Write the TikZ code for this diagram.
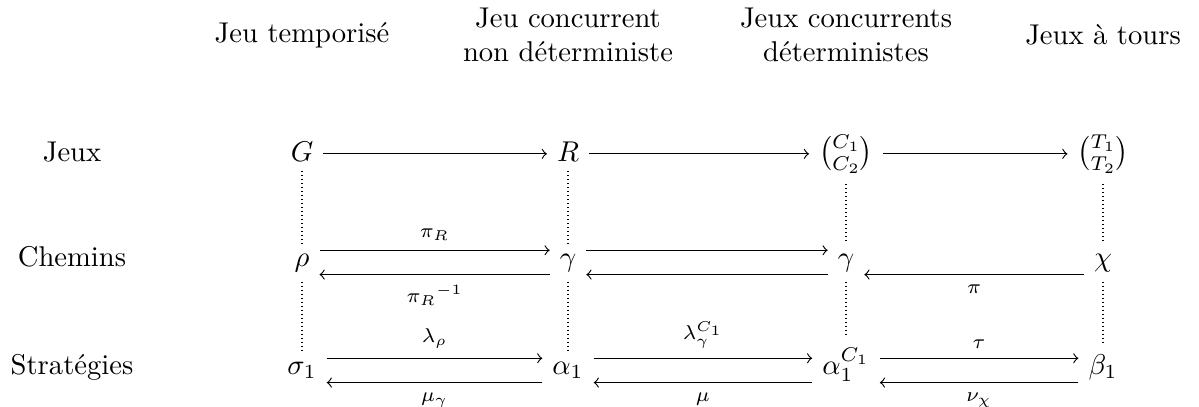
\documentclass[tikz,border=0pt]{standalone}
\usepackage{amsmath}
\usepackage{fontspec}
\begin{document}
\begin{tikzpicture}[x=0.3497pt,y=-0.3497pt,
  obj/.style={anchor=base},
  lab/.style={font=\scriptsize},
  head/.style={align=center},
  vlink/.style={densely dotted},
  arr/.style={->}]
\useasboundingbox (0,0) rectangle (1199,406);
% column titles
\node[head] (h1) at (302,35) {Jeu temporisé};
\node[head] (h2) at (568,35) {Jeu concurrent\\non déterministe};
\node[head] (h3) at (846,35) {Jeux concurrents\\déterministes};
\node[head] (h4) at (1103,35) {Jeux à tours};
% row titles
\node[obj] (l1) at (72,161) {Jeux};
\node[obj] (l2) at (72,266) {Chemins};
\node[obj] (l3) at (72,374) {Stratégies};
% row 1
\node[obj] (G) at (302,161) {$G$};
\node[obj] (R) at (568,161) {$R$};
\node[obj] (C) at (846,161) {$\binom{C_1}{C_2}$};
\node[obj] (T) at (1103,161) {$\binom{T_1}{T_2}$};
% row 2
\node[obj] (rho) at (302,266) {$\rho$};
\node[obj] (g1) at (568,266) {$\gamma$};
\node[obj] (g2) at (846,266) {$\gamma$};
\node[obj] (chi) at (1103,266) {$\chi$};
% row 3
\node[obj] (s) at (302,374) {$\sigma_1$};
\node[obj] (a) at (568,374) {$\alpha_1$};
\node[obj] (ac) at (846,374) {$\alpha_1^{C_1}$};
\node[obj] (b) at (1103,374) {$\beta_1$};
% dotted verticals
\draw[vlink] (G) -- (rho);
\draw[vlink] (rho) -- (s);
\draw[vlink] (R) -- (g1);
\draw[vlink] (g1) -- (a);
\draw[vlink] (C) -- (g2);
\draw[vlink] (g2) -- (ac);
\draw[vlink] (T) -- (chi);
\draw[vlink] (chi) -- (b);
% row 1 arrows
\draw[arr] ([yshift=2.5pt]G.base east) -- ([yshift=2.5pt]R.base west);
\draw[arr] ([yshift=2.5pt]R.base east) -- ([yshift=2.5pt]C.base west);
\draw[arr] ([yshift=2.5pt]C.base east) -- ([yshift=2.5pt]T.base west);
% row 2 arrows
\draw[arr] ([yshift=5.5pt]rho.base east) -- node[lab,above] {$\pi_R$} ([yshift=5.5pt]g1.base west);
\draw[arr] ([yshift=-3pt]g1.base west) -- node[lab,below] {${\pi_R}^{-1}$} ([yshift=-3pt]rho.base east);
\draw[arr] ([yshift=5.5pt]g1.base east) -- ([yshift=5.5pt]g2.base west);
\draw[arr] ([yshift=-3pt]g2.base west) -- ([yshift=-3pt]g1.base east);
\draw[arr] ([yshift=-3pt]chi.base west) -- node[lab,below] {$\pi$} ([yshift=-3pt]g2.base east);
% row 3 arrows
\draw[arr] ([yshift=5.5pt]s.base east) -- node[lab,above] {$\lambda_\rho$} ([yshift=5.5pt]a.base west);
\draw[arr] ([yshift=-3pt]a.base west) -- node[lab,below] {$\mu_\gamma$} ([yshift=-3pt]s.base east);
\draw[arr] ([yshift=5.5pt]a.base east) -- node[lab,above] {$\lambda_\gamma^{C_1}$} ([yshift=5.5pt]ac.base west);
\draw[arr] ([yshift=-3pt]ac.base west) -- node[lab,below] {$\mu$} ([yshift=-3pt]a.base east);
\draw[arr] ([yshift=5.5pt]ac.base east) -- node[lab,above] {$\tau$} ([yshift=5.5pt]b.base west);
\draw[arr] ([yshift=-3pt]b.base west) -- node[lab,below] {$\nu_\chi$} ([yshift=-3pt]ac.base east);
\end{tikzpicture}
\end{document}
